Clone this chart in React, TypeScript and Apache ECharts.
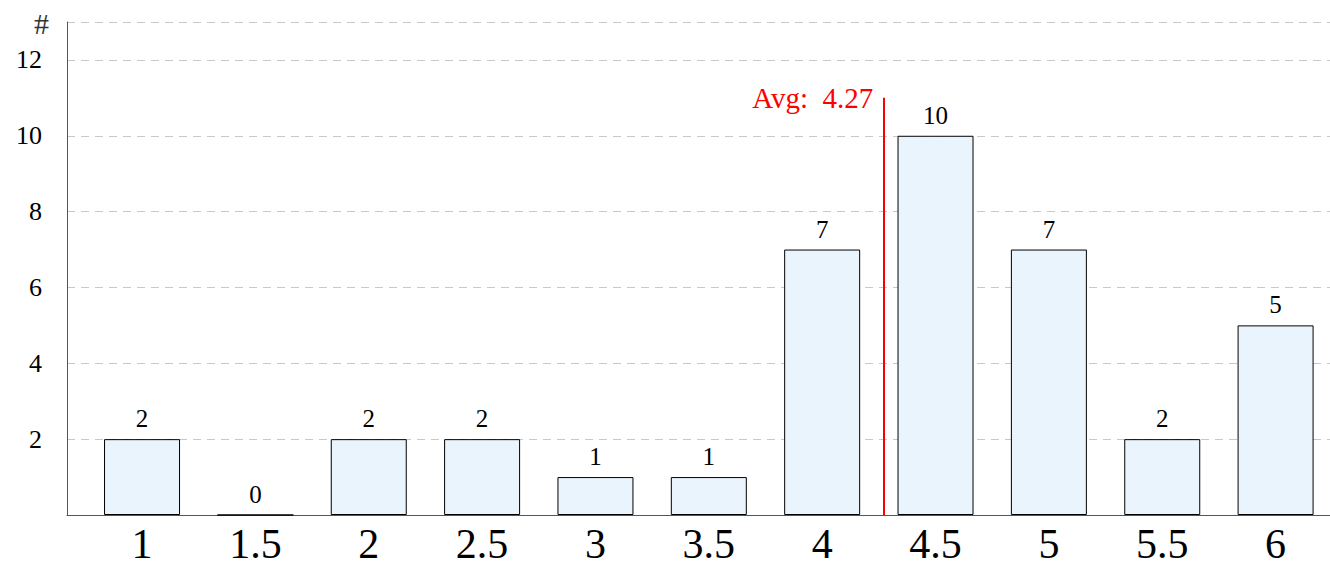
import React, { useEffect, useRef } from "react";
import * as echarts from "echarts";

const grades = [1, 1.5, 2, 2.5, 3, 3.5, 4, 4.5, 5, 5.5, 6];
const counts = [2, 0, 2, 2, 1, 1, 7, 10, 7, 2, 5];
const average = 4.27;
const avgLineTop = 11;
const yTicks = [2, 4, 6, 8, 10, 12];

const FONT = "'Liberation Serif', 'DejaVu Serif', serif";

export default function App() {
  const ref = useRef<HTMLDivElement>(null);
  useEffect(() => {
    if (!ref.current) return;
    const chart = echarts.init(ref.current, undefined, { renderer: "svg" });
    chart.setOption({
      animation: false,
      grid: { left: 67, right: 0, top: 22, bottom: 51, containLabel: false },
      xAxis: {
        type: "value",
        min: 0.669,
        max: 6.24,
        axisLine: { show: true, onZero: false, lineStyle: { color: "#555", width: 1 } },
        axisTick: { show: false },
        splitLine: { show: false },
        axisLabel: {
          customValues: grades,
          fontFamily: FONT,
          fontSize: 42,
          color: "#000",
          margin: 8,
          formatter: (v: number) => String(v),
        },
      },
      yAxis: {
        type: "value",
        min: 0,
        max: 13,
        interval: 2,
        name: "#",
        nameLocation: "end",
        nameGap: -16,
        nameTextStyle: { fontFamily: FONT, fontSize: 30, color: "#333", align: "right", padding: [0, 18, 0, 0] },
        axisLine: { show: true, lineStyle: { color: "#555", width: 1 } },
        axisTick: { show: false },
        axisLabel: {
          customValues: yTicks,
          fontFamily: FONT,
          fontSize: 26,
          color: "#000",
          margin: 25,
        },
        splitLine: {
          show: true,
          lineStyle: { color: "#c8c8c8", type: [8, 6], width: 1 },
        },
      },
      series: [
        {
          type: "bar",
          data: grades.map((g, i) => [g, counts[i]]),
          barWidth: 76,
          itemStyle: { color: "#eaf4fd", borderColor: "#000", borderWidth: 1 },
          label: {
            show: true,
            position: "top",
            distance: 8,
            fontFamily: FONT,
            fontSize: 25,
            color: "#000",
            formatter: (p: any) => String(p.value[1]),
          },
          markLine: {
            silent: true,
            symbol: "none",
            lineStyle: { color: "#ff0000", width: 2, type: "solid" },
            label: { show: false },
            data: [[{ coord: [average, 0] }, { coord: [average, avgLineTop] }]],
          },
          markPoint: {
            symbol: "circle",
            symbolSize: 0,
            data: [{ coord: [average, avgLineTop] }],
            label: {
              show: true,
              position: "left",
              distance: 10,
              fontFamily: FONT,
              fontSize: 29,
              color: "#ff0000",
              formatter: () => "Avg:  " + average.toFixed(2),
            },
          },
        },
      ],
    });
    return () => chart.dispose();
  }, []);
  return (
    <div
      ref={ref}
      style={{ position: "fixed", left: 0, top: 0, width: 1330, height: 566, background: "#fff" }}
    />
  );
}
